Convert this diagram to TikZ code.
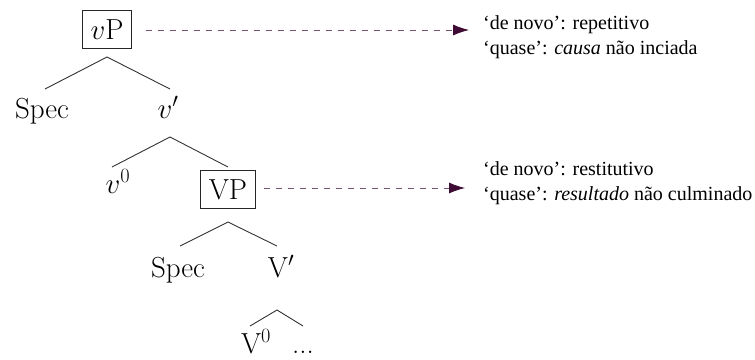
\documentclass[tikz,border=0pt]{standalone}
\usepackage{fix-cm}
\usepackage{fontspec}
\setmainfont{Latin Modern Roman}
\newfontfamily\tnr{Liberation Serif}
\usetikzlibrary{arrows.meta}
\definecolor{arrowpurple}{RGB}{62,12,52}
\tikzset{
  treefont/.style={font=\fontsize{29}{35}\selectfont},
  label/.style={treefont, anchor=base, inner sep=0pt},
  catbox/.style={treefont, draw=black!85, line width=0.8pt, inner xsep=8pt, inner ysep=9pt, text height=20pt, text depth=0pt},
  branch/.style={draw=black!80, line width=0.9pt},
  note/.style={font={\tnr\fontsize{20}{25}\selectfont}, anchor=base west, inner sep=0pt},
  pointer/.style={draw=arrowpurple!70, line width=0.8pt, dash pattern=on 6pt off 6pt, -{Latex[length=16pt,width=11pt,color=arrowpurple]}}
}
\begin{document}
\begin{tikzpicture}[x=1pt,y=-1pt]
\useasboundingbox (0,0) rectangle (755,359);
% nodes
\node[catbox] (vP) at (107,29) {$v$P};
\node[label] (spec1) at (42,118) {Spec};
\node[label] (vbar) at (168,118) {$v'$};
\node[label] (v0) at (118,193) {$v^0$};
\node[catbox] (VP) at (228,189) {VP};
\node[label] (spec2) at (178,277) {Spec};
\node[label] (Vbar) at (281,277) {V$'$};
\node[label] (V0) at (256,353) {V$^0$};
\node[label] (dots) at (303,353) {...};
% branch points
\coordinate (a1) at (107,57);
\coordinate (l1) at (45,89);
\coordinate (r1) at (170,89);
\coordinate (a2) at (170,137);
\coordinate (l2) at (112,167);
\coordinate (r2) at (228,167);
\coordinate (a3) at (228,222);
\coordinate (l3) at (180,246);
\coordinate (r3) at (277,246);
\coordinate (a4) at (277,310);
\coordinate (l4) at (250,326);
\coordinate (r4) at (303,326);
\draw[branch] (l1) -- (a1) -- (r1);
\draw[branch] (l2) -- (a2) -- (r2);
\draw[branch] (l3) -- (a3) -- (r3);
\draw[branch] (l4) -- (a4) -- (r4);
% notes
\node[note] (n1a) at (483,29) {‘de novo’: repetitivo};
\node[note] (n1b) at (483,54) {‘quase’: \textit{causa} não inciada};
\node[note] (n2a) at (483,175) {‘de novo’: restitutivo};
\node[note] (n2b) at (483,200) {‘quase’: \textit{resultado} não culminado};
% pointers
\coordinate (t1) at (469,30);
\coordinate (t2) at (465,188);
\draw[pointer, shorten <=14pt] (vP.east |- t1) -- (t1);
\draw[pointer, shorten <=8pt] (VP.east |- t2) -- (t2);
\end{tikzpicture}
\end{document}
